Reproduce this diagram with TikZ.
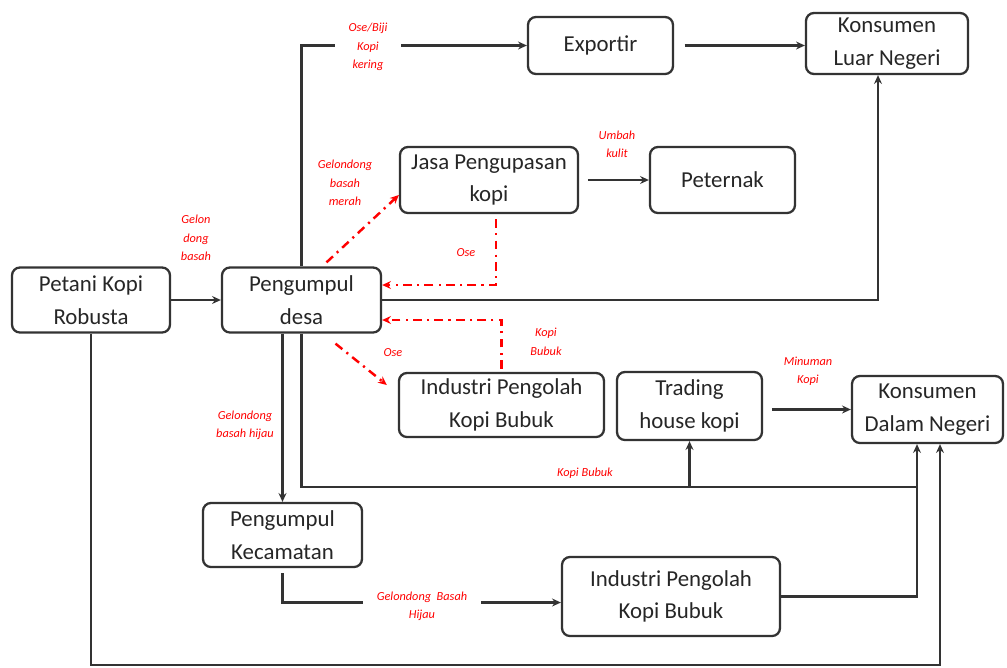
\documentclass[tikz,border=0pt]{standalone}
\usepackage{fontspec}
\setmainfont{Carlito}
\usetikzlibrary{arrows.meta}

\begin{document}
\begin{tikzpicture}[x=0.02cm,y=-0.02cm,
	box/.style={draw=black!80, line width=1.3pt, rounded corners=4.5pt, align=center, inner sep=0pt, text=black!85, font=\fontsize{13}{18.5}\selectfont},
	flow/.style={draw=black!80, line width=1.4pt, -{Stealth[length=5pt,width=4.5pt]}},
	line/.style={draw=black!80, line width=1.4pt},
	alur/.style={red, line width=1.4pt, dash pattern=on 5pt off 3pt on 1.2pt off 3pt, -{Stealth[length=5pt,width=4.5pt]}},
	lbl/.style={red, align=center, inner sep=1pt, font=\fontsize{7}{10.5}\selectfont\itshape}]
	\useasboundingbox (0,0) rectangle (1007,667);

	% aktor
	\node[box, minimum width=3.16cm, minimum height=1.3cm] (petani) at (91,300) {Petani Kopi\\Robusta};
	\node[box, minimum width=3.18cm, minimum height=1.3cm] (desa) at (301.5,300) {Pengumpul\\desa};
	\node[box, minimum width=2.9cm, minimum height=1.14cm] (exportir) at (600.5,45.5) {Exportir};
	\node[box, minimum width=3.24cm, minimum height=1.22cm] (luar) at (887,43.5) {Konsumen\\Luar Negeri};
	\node[box, minimum width=3.56cm, minimum height=1.32cm] (jasa) at (489,180) {Jasa Pengupasan\\kopi};
	\node[box, minimum width=2.9cm, minimum height=1.32cm] (peternak) at (722.5,180) {Peternak};
	\node[box, minimum width=4.1cm, minimum height=1.28cm] (indA) at (501.5,405) {Industri Pengolah\\Kopi Bubuk};
	\node[box, minimum width=2.9cm, minimum height=1.36cm] (trading) at (689.5,406) {Trading\\house kopi};
	\node[box, minimum width=3.02cm, minimum height=1.34cm] (dalam) at (927.5,409.5) {Konsumen\\Dalam Negeri};
	\node[box, minimum width=3.18cm, minimum height=1.28cm] (kec) at (282.5,535) {Pengumpul\\Kecamatan};
	\node[box, minimum width=4.36cm, minimum height=1.58cm] (indB) at (671,596.5) {Industri Pengolah\\Kopi Bubuk};

	\coordinate (simpang) at (917,487);
	\coordinate (bawah) at (940,665);

	% alur utama
	\draw[flow] (petani) -- (desa);
	\draw[flow] (desa.north) |- (exportir.west);
	\draw[flow, shorten <=6pt] (exportir.east) -- (exportir.east -| luar.west);
	\draw[flow] (desa.east) -| ([xshift=-0.18cm]luar.south);
	\draw[flow, shorten <=5pt] (jasa) -- (peternak);
	\draw[flow] (desa.south -| kec.north) -- (kec.north);
	\draw[flow] (desa.south) |- (simpang) -- (simpang |- dalam.south);
	\draw[flow] (trading.south |- simpang) -- (trading.south);
	\draw[flow, shorten <=5pt] (dalam.west -| trading.east) -- (dalam.west);
	\draw[flow] ([yshift=-0.1cm]kec.south) |- ([yshift=-0.12cm]indB.west);
	\draw[line] (indB.east) -| (simpang);
	\draw[flow] (petani.south) |- (bawah) -- (bawah |- dalam.south);

	% alur samping (merah)
	\draw[alur] ([xshift=0.5cm,yshift=0.08cm]desa.north) -- ([yshift=-0.3cm]jasa.west);
	\draw[alur] ([xshift=0.14cm,yshift=-0.1cm]jasa.south) |- ([yshift=0.3cm]desa.east);
	\draw[alur] ([yshift=0.06cm]indA.north) |- ([yshift=-0.4cm]desa.east);
	\draw[alur] ([xshift=0.68cm,yshift=-0.2cm]desa.south) -- ([xshift=-0.22cm,yshift=0.4cm]indA.west);

	% keterangan
	\node[lbl] (lGelon) at (196,238) {Gelon\\dong\\basah};
	\node[lbl, fill=white, inner xsep=8pt] (lOseBiji) at (368,47) {Ose/Biji\\Kopi\\kering};
	\node[lbl] (lMerah) at (345,183) {Gelondong\\basah\\merah};
	\node[lbl] (lOseA) at (466,253) {Ose};
	\node[lbl] (lUmbah) at (617,144) {Umbah\\kulit};
	\node[lbl] (lBubukA) at (546,342) {Kopi\\Bubuk};
	\node[lbl] (lOseB) at (393,353) {Ose};
	\node[lbl] (lHijau) at (245,425) {Gelondong\\basah hijau};
	\node[lbl] (lBubukB) at (585,473) {Kopi Bubuk};
	\node[lbl] (lMinum) at (808,371) {Minuman\\Kopi};
	\node[lbl, fill=white, inner xsep=8pt] (lBasah) at (422,606) {Gelondong~~Basah\\Hijau};
\end{tikzpicture}
\end{document}
